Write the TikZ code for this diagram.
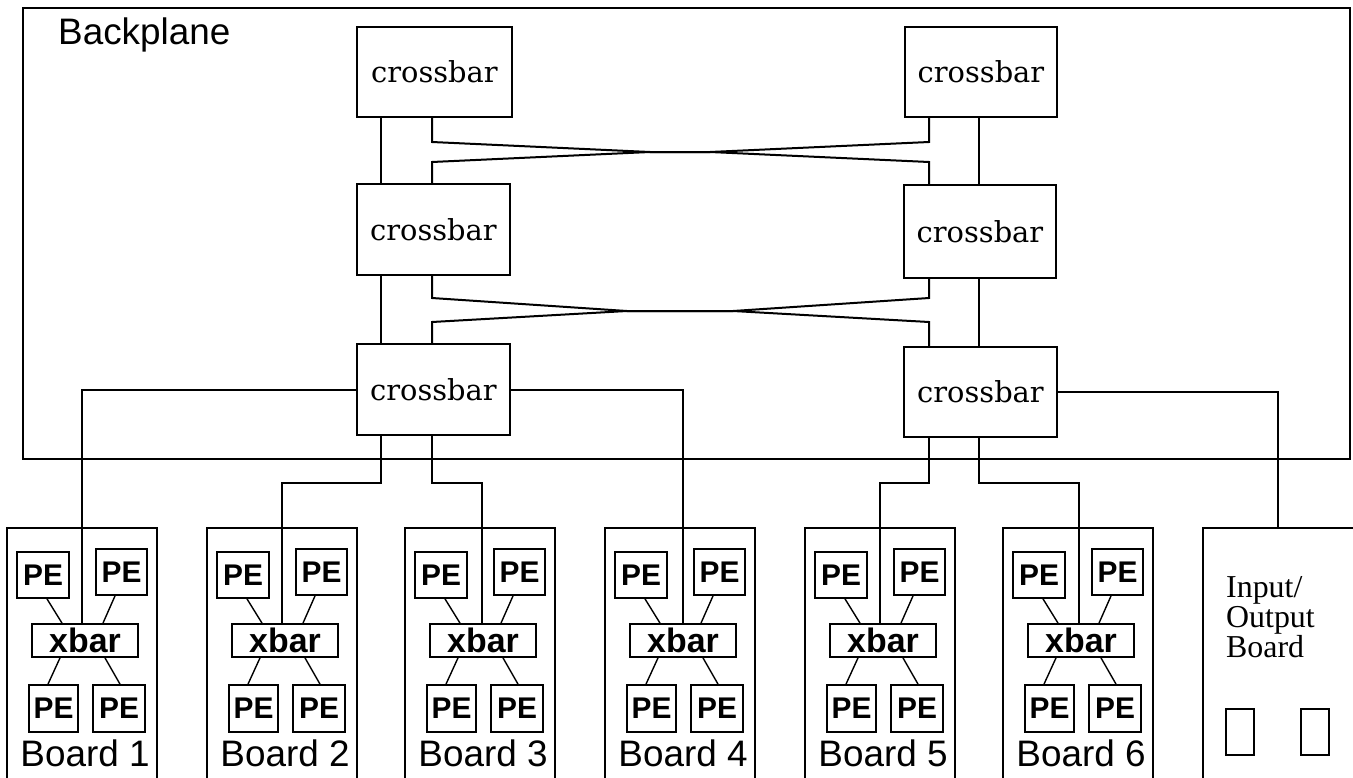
\documentclass[tikz,border=0pt]{standalone}
\usepackage{fontspec}
\setmainfont{Liberation Sans}
\newfontfamily\crossfont{DejaVu Serif}
\newfontfamily\iofont{Liberation Serif}
\usetikzlibrary{calc}
\tikzset{
  box/.style={draw, line width=1.8bp, inner sep=0pt, rectangle},
  xbox/.style={box, font=\crossfont\fontsize{29}{30}\selectfont, minimum width=153bp, minimum height=90bp},
  pebox/.style={box, font=\bfseries\fontsize{30}{30}\selectfont, minimum height=46bp},
  xbarbox/.style={box, font=\bfseries\fontsize{34}{36}\selectfont, minimum width=106bp, minimum height=33bp},
  brd/.style={box, minimum width=150bp, minimum height=262bp},
  wire/.style={line width=2bp},
  thinwire/.style={line width=1.4bp},
  lbl/.style={inner sep=0pt, font=\fontsize{37}{40}\selectfont},
}
\newcommand\myboard[2]{%
  \node[brd] (bd#2) at (#1+75,659) {};
  \node[pebox, minimum width=52bp] (tl#2) at (#1+36,575) {PE};
  \node[pebox, minimum width=51bp] (tr#2) at (#1+114.5,572) {PE};
  \node[xbarbox] (xb#2) at (#1+78,640.5) {xbar};
  \node[pebox, minimum width=49bp, minimum height=47bp] (bl#2) at (#1+46.5,708.5) {PE};
  \node[pebox, minimum width=52bp, minimum height=47bp] (br#2) at (#1+112,708.5) {PE};
  \node[lbl, anchor=base] (lb#2) at (#1+78,766) {Board #2};
  \draw[thinwire] ([xshift=4bp]tl#2.south) -- ([xshift=-23bp]xb#2.north);
  \draw[thinwire] ([xshift=-6.5bp]tr#2.south) -- ([xshift=18bp]xb#2.north);
  \draw[thinwire] ([xshift=-25bp]xb#2.south) -- ([xshift=-5.5bp]bl#2.north);
  \draw[thinwire] ([xshift=20bp]xb#2.south) -- ([xshift=1bp]br#2.north);
}
\begin{document}
\begin{tikzpicture}[x=1bp, y=-1bp]
  \fill[white] (0,0) rectangle (1353,777);
  \useasboundingbox (0,0) rectangle (1353,777);

  % backplane
  \node[box, minimum width=1327bp, minimum height=451bp] (bp) at (686.5,233.5) {};
  \node[lbl, font=\fontsize{37}{40}\selectfont, anchor=base west] (bpl) at (58,45) {Backplane};

  % crossbars
  \node[xbox, minimum width=155bp] (cL1) at (434.5,72) {crossbar};
  \node[xbox, minimum height=91bp] (cL2) at (433.5,229.5) {crossbar};
  \node[xbox, minimum height=91bp] (cL3) at (433.5,389.5) {crossbar};
  \node[xbox, minimum width=152bp] (cR1) at (981,72) {crossbar};
  \node[xbox, minimum width=152bp, minimum height=93bp] (cR2) at (980,231.5) {crossbar};
  \node[xbox] (cR3) at (980.5,392) {crossbar};

  \coordinate (cA) at (381,0);
  \coordinate (cB) at (432,0);
  \coordinate (cC) at (929,0);
  \coordinate (cD) at (979,0);
  \coordinate (cE) at (1278,0);
  \coordinate (hy) at (0,483);

  % vertical links in columns
  \draw[wire] (cA |- cL1.south) -- (cA |- cL2.north);
  \draw[wire] (cA |- cL2.south) -- (cA |- cL3.north);
  \draw[wire] (cD |- cR1.south) -- (cD |- cR2.north);
  \draw[wire] (cD |- cR2.south) -- (cD |- cR3.north);

  % cross links
  \draw[wire] (cB |- cL1.south) -- (432,142) -- (650,152) -- (710,152) -- (929,162) -- (cC |- cR2.north);
  \draw[wire] (cB |- cL2.north) -- (432,162) -- (650,152) -- (710,152) -- (929,142) -- (cC |- cR1.south);
  \draw[wire] (cB |- cL2.south) -- (432,298) -- (627,311) -- (733,311) -- (929,322) -- (cC |- cR3.north);
  \draw[wire] (cB |- cL3.north) -- (432,322) -- (627,311) -- (733,311) -- (929,298) -- (cC |- cR2.south);

  % boards
  \myboard{7}{1}
  \myboard{207}{2}
  \myboard{405}{3}
  \myboard{605}{4}
  \myboard{805}{5}
  \myboard{1003}{6}

  % I/O board
  \node[box, minimum width=162bp, minimum height=262bp] (io) at (1284,659) {};
  \node[inner sep=0pt, anchor=north west, align=left, font=\iofont\fontsize{32}{30}\selectfont] (iot) at (1226,576) {Input/\\Output\\Board};
  \node[box, minimum width=28bp, minimum height=46bp] (io1) at (1240,732) {};
  \node[box, minimum width=28bp, minimum height=46bp] (io2) at (1315,732) {};

  % links from backplane to boards
  \draw[wire] (cL3.west) -| ([xshift=-3bp]xb1.north);
  \draw[wire] (cL3.east) -| (xb4.north);
  \draw[wire] (cA |- cL3.south) -- (cA |- hy) -| ([xshift=-3bp]xb2.north);
  \draw[wire] (cB |- cL3.south) -- (cB |- hy) -| ([xshift=-1bp]xb3.north);
  \draw[wire] (cC |- cR3.south) -- (cC |- hy) -| ([xshift=-3bp]xb5.north);
  \draw[wire] (cD |- cR3.south) -- (cD |- hy) -| ([xshift=-2bp]xb6.north);
  \draw[wire] (cR3.east) -| (cE |- io.north);
\end{tikzpicture}
\end{document}
